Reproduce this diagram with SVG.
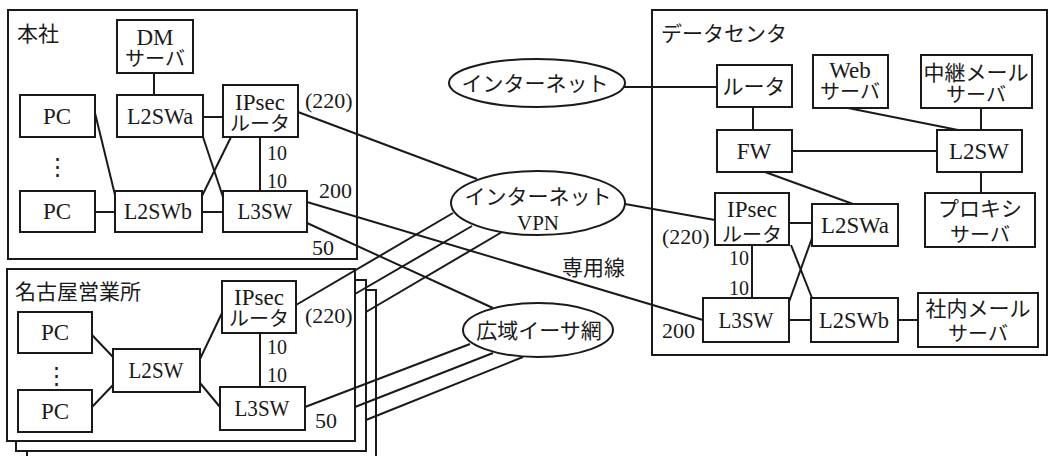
<svg xmlns="http://www.w3.org/2000/svg" width="1049" height="456" viewBox="0 0 1049 456">
  <style>
    .frame { fill: #fff; stroke: #1a1a1a; stroke-width: 2; }
    .box { fill: #fff; stroke: #1a1a1a; stroke-width: 2; }
    .cloud { fill: #fff; stroke: #1a1a1a; stroke-width: 2; }
    .ln { stroke: #1a1a1a; stroke-width: 2; fill: none; }
    text { font-family: "Liberation Serif", "Noto Sans CJK JP", serif; fill: #1a1a1a; }
    .c { text-anchor: middle; }
    .en { font-size: 23px; }
    .jp { font-size: 21px; }
    .lbl { font-size: 21px; }
    .num { font-size: 22px; }
    .ten { font-size: 20px; }
  </style>
  <rect width="1049" height="456" fill="#fff"/>

  <!-- site frames -->
  <g id="honsha-frame">
    <rect class="frame" x="8" y="10" width="349" height="249"/>
    <text class="lbl" x="17" y="41">本社</text>
  </g>
  <g id="nagoya-frame">
    <rect class="frame" x="27" y="290" width="349" height="180"/>
    <rect class="frame" x="16" y="280" width="350" height="171"/>
    <rect class="frame" x="7" y="269" width="348" height="172"/>
    <text class="lbl" x="15" y="299">名古屋営業所</text>
  </g>
  <g id="dc-frame">
    <rect class="frame" x="652" y="10" width="395" height="345"/>
    <text class="lbl" x="661" y="41">データセンタ</text>
  </g>

  <!-- connectors -->
  <g id="connectors">
    <!-- head office -->
    <line class="ln" x1="154" y1="73" x2="154" y2="95"/>
    <line class="ln" x1="203" y1="117" x2="223" y2="117"/>
    <line class="ln" x1="95" y1="113" x2="115" y2="195"/>
    <line class="ln" x1="95" y1="212" x2="115" y2="212"/>
    <line class="ln" x1="202" y1="212" x2="223" y2="212"/>
    <line class="ln" x1="203" y1="137" x2="223" y2="197"/>
    <line class="ln" x1="202" y1="196" x2="231" y2="137"/>
    <line class="ln" x1="260" y1="137" x2="260" y2="192"/>
    <!-- nagoya -->
    <line class="ln" x1="92" y1="335" x2="113" y2="357"/>
    <line class="ln" x1="92" y1="407" x2="113" y2="385"/>
    <line class="ln" x1="200" y1="359" x2="222" y2="313"/>
    <line class="ln" x1="200" y1="383" x2="220" y2="407"/>
    <line class="ln" x1="260" y1="333" x2="260" y2="387"/>
    <!-- data center -->
    <line class="ln" x1="753" y1="107" x2="753" y2="130"/>
    <line class="ln" x1="792" y1="151" x2="937" y2="151"/>
    <line class="ln" x1="848" y1="108" x2="958" y2="130"/>
    <line class="ln" x1="981" y1="108" x2="981" y2="130"/>
    <line class="ln" x1="981" y1="172" x2="981" y2="193"/>
    <line class="ln" x1="765" y1="172" x2="853" y2="204"/>
    <line class="ln" x1="789" y1="223" x2="812" y2="223"/>
    <line class="ln" x1="752" y1="245" x2="752" y2="298"/>
    <line class="ln" x1="789" y1="320" x2="811" y2="320"/>
    <line class="ln" x1="898" y1="320" x2="918" y2="320"/>
    <line class="ln" x1="791" y1="245" x2="812" y2="298"/>
    <line class="ln" x1="789" y1="302" x2="812" y2="238"/>
    <!-- WAN links -->
    <line class="ln" x1="624" y1="87" x2="717" y2="87"/>
    <line class="ln" x1="298" y1="112" x2="477" y2="179"/>
    <line class="ln" x1="625" y1="204" x2="715" y2="220"/>
    <line class="ln" x1="307" y1="202" x2="703" y2="320"/>
    <line class="ln" x1="307" y1="223" x2="493" y2="308"/>
    <line class="ln" x1="296" y1="305" x2="453" y2="213"/>
    <line class="ln" x1="355" y1="294" x2="472" y2="226"/>
    <line class="ln" x1="366" y1="312" x2="502" y2="232"/>
    <line class="ln" x1="305" y1="407" x2="470" y2="344"/>
    <line class="ln" x1="355" y1="407" x2="493" y2="353"/>
    <line class="ln" x1="366" y1="420" x2="523" y2="357"/>
  </g>

  <!-- networks -->
  <g id="internet">
    <ellipse class="cloud" cx="537" cy="83" rx="88" ry="24"/>
    <text class="jp c" x="535" y="91" font-size="22">インターネット</text>
  </g>
  <g id="internet-vpn">
    <ellipse class="cloud" cx="538" cy="203" rx="87" ry="32"/>
    <text class="jp c" font-size="22"><tspan x="538" y="204">インターネット</tspan><tspan x="538" y="230">VPN</tspan></text>
  </g>
  <g id="wide-ethernet">
    <ellipse class="cloud" cx="538" cy="330" rx="75" ry="27"/>
    <text class="jp c" x="539" y="338">広域イーサ網</text>
  </g>
  <g id="leased-line-label">
    <text class="lbl" x="562" y="275">専用線</text>
  </g>

  <!-- head office nodes -->
  <g id="ho-dm">
    <rect class="box" x="117" y="20" width="76" height="53"/>
    <text class="jp c"><tspan x="155" y="45" font-size="23">DM</tspan><tspan x="155" y="66" font-size="20">サーバ</tspan></text>
  </g>
  <g id="ho-l2swa">
    <rect class="box" x="117" y="95" width="86" height="42"/>
    <text class="en c" x="160" y="124" textLength="66" lengthAdjust="spacingAndGlyphs">L2SWa</text>
  </g>
  <g id="ho-ipsec">
    <rect class="box" x="223" y="85" width="75" height="52"/>
    <text class="jp c"><tspan x="260" y="110" font-size="23">IPsec</tspan><tspan x="260" y="131" font-size="20">ルータ</tspan></text>
  </g>
  <g id="ho-pc1">
    <rect class="box" x="20" y="95" width="75" height="42"/>
    <text class="en c" x="57" y="124">PC</text>
  </g>
  <g id="ho-dots">
    <text class="en c" x="57" y="174">⋮</text>
  </g>
  <g id="ho-pc2">
    <rect class="box" x="20" y="191" width="75" height="41"/>
    <text class="en c" x="57" y="219">PC</text>
  </g>
  <g id="ho-l2swb">
    <rect class="box" x="115" y="191" width="87" height="41"/>
    <text class="en c" x="158" y="219" textLength="68" lengthAdjust="spacingAndGlyphs">L2SWb</text>
  </g>
  <g id="ho-l3sw">
    <rect class="box" x="223" y="191" width="84" height="41"/>
    <text class="en c" x="265" y="219" textLength="55" lengthAdjust="spacingAndGlyphs">L3SW</text>
  </g>
  <g id="ho-labels">
    <text class="ten" x="267" y="160">10</text>
    <text class="ten" x="267" y="188">10</text>
    <text class="num" x="305" y="108">(220)</text>
    <text class="num" x="319" y="198">200</text>
    <text class="num" x="312" y="255">50</text>
  </g>

  <!-- nagoya nodes -->
  <g id="ng-pc1">
    <rect class="box" x="18" y="312" width="74" height="41"/>
    <text class="en c" x="55" y="340">PC</text>
  </g>
  <g id="ng-dots">
    <text class="en c" x="56" y="383">⋮</text>
  </g>
  <g id="ng-pc2">
    <rect class="box" x="18" y="390" width="74" height="42"/>
    <text class="en c" x="55" y="419">PC</text>
  </g>
  <g id="ng-l2sw">
    <rect class="box" x="113" y="349" width="87" height="43"/>
    <text class="en c" x="156" y="378" textLength="55" lengthAdjust="spacingAndGlyphs">L2SW</text>
  </g>
  <g id="ng-ipsec">
    <rect class="box" x="222" y="281" width="74" height="52"/>
    <text class="jp c"><tspan x="259" y="305" font-size="23">IPsec</tspan><tspan x="259" y="326" font-size="20">ルータ</tspan></text>
  </g>
  <g id="ng-l3sw">
    <rect class="box" x="220" y="387" width="85" height="43"/>
    <text class="en c" x="262" y="416" textLength="55" lengthAdjust="spacingAndGlyphs">L3SW</text>
  </g>
  <g id="ng-labels">
    <text class="ten" x="267" y="354">10</text>
    <text class="ten" x="267" y="382">10</text>
    <text class="num" x="305" y="323">(220)</text>
    <text class="num" x="315" y="428">50</text>
  </g>

  <!-- data center nodes -->
  <g id="dc-router">
    <rect class="box" x="717" y="65" width="75" height="42"/>
    <text class="jp c" x="754" y="94" font-size="20">ルータ</text>
  </g>
  <g id="dc-web">
    <rect class="box" x="813" y="55" width="75" height="53"/>
    <text class="jp c"><tspan x="850" y="78" font-size="23">Web</tspan><tspan x="850" y="99" font-size="20">サーバ</tspan></text>
  </g>
  <g id="dc-relay-mail">
    <rect class="box" x="921" y="55" width="111" height="53"/>
    <text class="jp c"><tspan x="976" y="80">中継メール</tspan><tspan x="976" y="102" font-size="20">サーバ</tspan></text>
  </g>
  <g id="dc-fw">
    <rect class="box" x="717" y="130" width="75" height="42"/>
    <text class="en c" x="754" y="159">FW</text>
  </g>
  <g id="dc-l2sw">
    <rect class="box" x="937" y="130" width="85" height="42"/>
    <text class="en c" x="979" y="159" textLength="60" lengthAdjust="spacingAndGlyphs">L2SW</text>
  </g>
  <g id="dc-proxy">
    <rect class="box" x="925" y="193" width="110" height="54"/>
    <text class="jp c"><tspan x="980" y="216">プロキシ</tspan><tspan x="980" y="242" font-size="20">サーバ</tspan></text>
  </g>
  <g id="dc-ipsec">
    <rect class="box" x="715" y="193" width="74" height="52"/>
    <text class="jp c"><tspan x="752" y="217" font-size="23">IPsec</tspan><tspan x="752" y="242" font-size="20">ルータ</tspan></text>
  </g>
  <g id="dc-l2swa">
    <rect class="box" x="812" y="204" width="86" height="42"/>
    <text class="en c" x="855" y="233" textLength="68" lengthAdjust="spacingAndGlyphs">L2SWa</text>
  </g>
  <g id="dc-l3sw">
    <rect class="box" x="703" y="298" width="86" height="44"/>
    <text class="en c" x="746" y="328" textLength="55" lengthAdjust="spacingAndGlyphs">L3SW</text>
  </g>
  <g id="dc-l2swb">
    <rect class="box" x="811" y="298" width="87" height="44"/>
    <text class="en c" x="854" y="328" textLength="70" lengthAdjust="spacingAndGlyphs">L2SWb</text>
  </g>
  <g id="dc-internal-mail">
    <rect class="box" x="918" y="293" width="120" height="54"/>
    <text class="jp c"><tspan x="978" y="316">社内メール</tspan><tspan x="978" y="341" font-size="20">サーバ</tspan></text>
  </g>
  <g id="dc-labels">
    <text class="num" x="662" y="244">(220)</text>
    <text class="ten" x="729" y="265">10</text>
    <text class="ten" x="729" y="295">10</text>
    <text class="num" x="662" y="338">200</text>
  </g>
</svg>
